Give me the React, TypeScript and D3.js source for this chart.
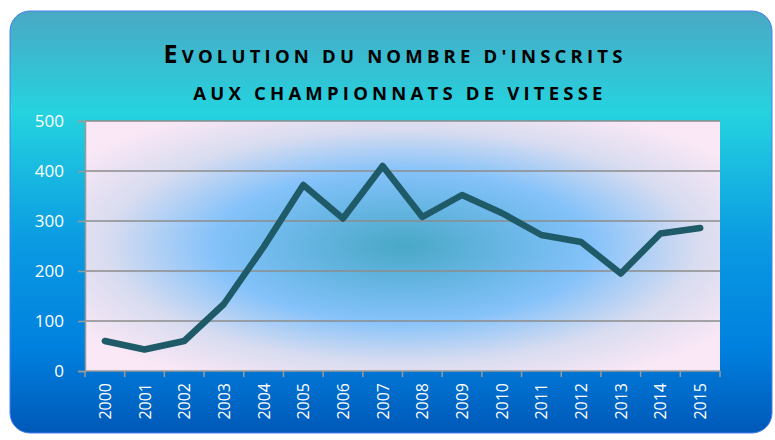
import React, { useRef, useEffect } from 'react';
import * as d3 from 'd3';

const years = ['2000', '2001', '2002', '2003', '2004', '2005', '2006', '2007', '2008', '2009', '2010', '2011', '2012', '2013', '2014', '2015'];
const inscrits = [60, 43, 60, 134, 248, 372, 305, 410, 308, 352, 316, 272, 258, 195, 275, 286];
const yTicks = [0, 100, 200, 300, 400, 500];

const App: React.FC = () => {
    const svgRef = useRef<SVGSVGElement | null>(null);

    useEffect(() => {
        if (!svgRef.current) return;
        const width = 775;
        const height = 440;
        const plot = { left: 85, right: 720, top: 121, bottom: 371 };

        const svg = d3.select(svgRef.current);
        svg.selectAll('*').remove();

        const defs = svg.append('defs');

        // frame gradient
        const bg = defs.append('linearGradient').attr('id', 'frameGrad')
            .attr('x1', 0).attr('y1', 0).attr('x2', 0).attr('y2', 1);
        bg.append('stop').attr('offset', '0%').attr('stop-color', '#4aa8c4');
        bg.append('stop').attr('offset', '24%').attr('stop-color', '#25d3df');
        bg.append('stop').attr('offset', '55%').attr('stop-color', '#0a9ae2');
        bg.append('stop').attr('offset', '80%').attr('stop-color', '#0080de');
        bg.append('stop').attr('offset', '100%').attr('stop-color', '#0058b8');

        // plot area gradient
        const pg = defs.append('radialGradient').attr('id', 'plotGrad')
            .attr('cx', 0.5).attr('cy', 0.5).attr('r', 0.62);
        pg.append('stop').attr('offset', '0%').attr('stop-color', '#48a8c6');
        pg.append('stop').attr('offset', '30%').attr('stop-color', '#6cb8e8');
        pg.append('stop').attr('offset', '48%').attr('stop-color', '#84c2fa');
        pg.append('stop').attr('offset', '75%').attr('stop-color', '#d8dcf0');
        pg.append('stop').attr('offset', '100%').attr('stop-color', '#fbe8f6');

        svg.append('rect')
            .attr('x', 10).attr('y', 11)
            .attr('width', width - 13).attr('height', height - 18)
            .attr('rx', 20)
            .attr('fill', 'url(#frameGrad)')
            .attr('stroke', '#4a7ff0').attr('stroke-width', 1);

        svg.append('rect')
            .attr('x', plot.left).attr('y', plot.top)
            .attr('width', plot.right - plot.left).attr('height', plot.bottom - plot.top)
            .attr('fill', 'url(#plotGrad)');

        const x = d3.scaleBand().domain(years).range([plot.left, plot.right]);
        const y = d3.scaleLinear().domain([0, 500]).range([plot.bottom, plot.top]);

        // gridlines
        svg.append('g')
            .selectAll('line')
            .data(yTicks.slice(1))
            .join('line')
            .attr('x1', plot.left).attr('x2', plot.right)
            .attr('y1', d => y(d)).attr('y2', d => y(d))
            .attr('stroke', '#8c8c8c').attr('stroke-width', 1.5);

        // y axis
        const yAxis = svg.append('g')
            .attr('transform', `translate(${plot.left},0)`)
            .call(d3.axisLeft(y).tickValues(yTicks).tickSize(7).tickPadding(14));
        yAxis.select('.domain').attr('stroke', '#9a9a9a').attr('stroke-width', 1.5);
        yAxis.selectAll('.tick line').attr('stroke', '#9a9a9a').attr('stroke-width', 1.5);
        yAxis.selectAll('.tick text')
            .attr('fill', '#ffffff')
            .style('font-family', 'Open Sans, sans-serif')
            .style('font-size', '17px');

        // x axis
        const xAxis = svg.append('g')
            .attr('transform', `translate(0,${plot.bottom})`);
        xAxis.append('line')
            .attr('x1', plot.left).attr('x2', plot.right)
            .attr('stroke', '#9a9a9a').attr('stroke-width', 1.5);
        xAxis.selectAll('line.tk')
            .data(years.concat(['end']))
            .join('line')
            .attr('class', 'tk')
            .attr('x1', (d, i) => plot.left + i * x.bandwidth())
            .attr('x2', (d, i) => plot.left + i * x.bandwidth())
            .attr('y1', 0).attr('y2', 6)
            .attr('stroke', '#9a9a9a').attr('stroke-width', 1.5);
        xAxis.selectAll('text')
            .data(years)
            .join('text')
            .attr('transform', d => `translate(${(x(d) || 0) + x.bandwidth() / 2 + 6},12) rotate(-90)`)
            .attr('text-anchor', 'end')
            .attr('fill', '#ffffff')
            .style('font-family', 'Open Sans, sans-serif')
            .style('font-size', '16px')
            .text(d => d);

        // line
        const line = d3.line<number>()
            .x((d, i) => (x(years[i]) || 0) + x.bandwidth() / 2)
            .y(d => y(d));
        svg.append('path')
            .datum(inscrits)
            .attr('d', line)
            .attr('fill', 'none')
            .attr('stroke', '#1f5a68')
            .attr('stroke-width', 6.5)
            .attr('stroke-linejoin', 'round')
            .attr('stroke-linecap', 'round');

        // title, small caps
        const title = svg.append('text')
            .attr('text-anchor', 'middle')
            .attr('fill', '#000000')
            .style('font-family', 'Open Sans, sans-serif')
            .style('font-weight', 'bold')
            .style('letter-spacing', '4.2px');
        const l1 = title.append('tspan').attr('x', 395).attr('y', 63);
        l1.append('tspan').style('font-size', '25px').text('E');
        l1.append('tspan').style('font-size', '18.5px').text("VOLUTION DU NOMBRE D'INSCRITS");
        title.append('tspan').attr('x', 400).attr('y', 100)
            .style('font-size', '18.5px')
            .text('AUX CHAMPIONNATS DE VITESSE');
    }, []);

    return <svg ref={svgRef} width={775} height={440} style={{ position: 'absolute', left: 0, top: 0 }} />;
};

export default App;
